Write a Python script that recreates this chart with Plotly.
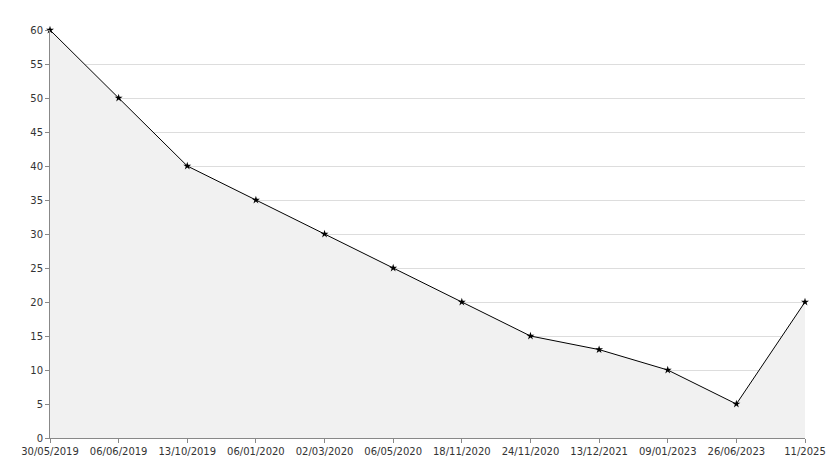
import plotly.graph_objects as go

dates = ["30/05/2019", "06/06/2019", "13/10/2019", "06/01/2020", "02/03/2020",
         "06/05/2020", "18/11/2020", "24/11/2020", "13/12/2021", "09/01/2023",
         "26/06/2023", "11/2025"]
values = [60, 50, 40, 35, 30, 25, 20, 15, 13, 10, 5, 20]
y_ticks = list(range(0, 61, 5))

fig = go.Figure(go.Scatter(
    x=list(range(len(dates))),
    y=values,
    mode="lines+markers",
    fill="tozeroy",
    fillcolor="#f1f1f1",
    line=dict(color="black", width=1),
    marker=dict(symbol="star", size=6, color="black"),
    cliponaxis=False,
))

fig.update_layout(
    width=834, height=468,
    margin=dict(l=42, r=37, t=22, b=38),
    plot_bgcolor="white", paper_bgcolor="white",
    showlegend=False,
    font=dict(family="DejaVu Sans", size=10, color="#333"),
    xaxis=dict(
        tickmode="array", tickvals=list(range(len(dates))), ticktext=dates,
        range=[0, len(dates) - 1], showgrid=False, zeroline=False,
        showline=True, linecolor="#888", ticks="outside", ticklen=4, tickcolor="#888",
    ),
    yaxis=dict(
        tickvals=y_ticks, range=[0, 60], gridcolor="#dddddd", zeroline=False,
        showline=True, linecolor="#888", ticks="outside", ticklen=4, tickcolor="#888",
    ),
)

fig.write_html("out.html")
